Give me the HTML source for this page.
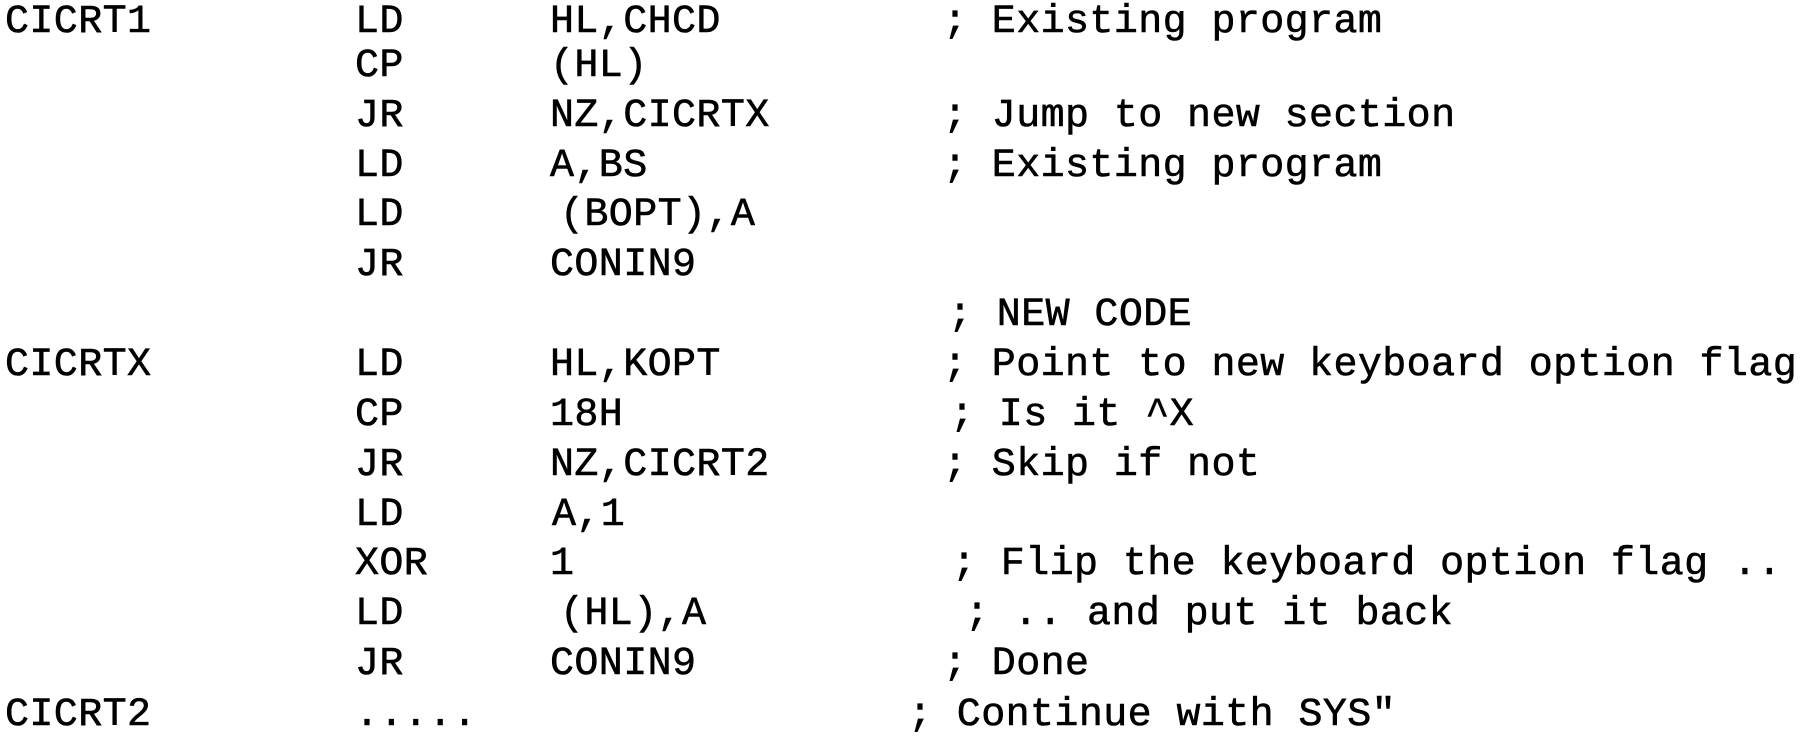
<!DOCTYPE html>
<html><head><meta charset="utf-8"><style>
html,body{margin:0;padding:0;background:#fff;}
body{width:1813px;height:738px;position:relative;overflow:hidden;}
.t{position:absolute;font-family:"Liberation Mono","DejaVu Sans Mono",monospace;font-size:40px;letter-spacing:0.4px;line-height:50px;color:#000;white-space:pre;-webkit-text-stroke:0.6px #000;}
</style></head><body>
<div class="t" style="left:5px;top:-2px">CICRT1</div>
<div class="t" style="left:355px;top:-2px">LD</div>
<div class="t" style="left:550px;top:-2px">HL,CHCD</div>
<div class="t" style="left:943px;top:-2px">; Existing program</div>

<div class="t" style="left:355px;top:42px">CP</div>
<div class="t" style="left:550px;top:42px">(HL)</div>

<div class="t" style="left:355px;top:92px">JR</div>
<div class="t" style="left:550px;top:92px">NZ,CICRTX</div>
<div class="t" style="left:943px;top:92px">; Jump to new section</div>

<div class="t" style="left:355px;top:142px">LD</div>
<div class="t" style="left:550px;top:142px">A,BS</div>
<div class="t" style="left:943px;top:142px">; Existing program</div>

<div class="t" style="left:355px;top:191px">LD</div>
<div class="t" style="left:560px;top:191px">(BOPT),A</div>

<div class="t" style="left:355px;top:241px">JR</div>
<div class="t" style="left:550px;top:241px">CONIN9</div>

<div class="t" style="left:948px;top:291px">; NEW CODE</div>

<div class="t" style="left:5px;top:341px">CICRTX</div>
<div class="t" style="left:355px;top:341px">LD</div>
<div class="t" style="left:550px;top:341px">HL,KOPT</div>
<div class="t" style="left:943px;top:341px">; Point to new keyboard option flag</div>

<div class="t" style="left:355px;top:391px">CP</div>
<div class="t" style="left:550px;top:391px">18H</div>
<div class="t" style="left:950px;top:391px">; Is it ^X</div>

<div class="t" style="left:355px;top:441px">JR</div>
<div class="t" style="left:550px;top:441px">NZ,CICRT2</div>
<div class="t" style="left:943px;top:441px">; Skip if not</div>

<div class="t" style="left:355px;top:491px">LD</div>
<div class="t" style="left:552px;top:491px">A,1</div>

<div class="t" style="left:355px;top:540px">XOR</div>
<div class="t" style="left:550px;top:540px">1</div>
<div class="t" style="left:952px;top:540px">; Flip the keyboard option flag ..</div>

<div class="t" style="left:355px;top:590px">LD</div>
<div class="t" style="left:560px;top:590px">(HL),A</div>
<div class="t" style="left:965px;top:590px">; .. and put it back</div>

<div class="t" style="left:355px;top:640px">JR</div>
<div class="t" style="left:550px;top:640px">CONIN9</div>
<div class="t" style="left:943px;top:640px">; Done</div>

<div class="t" style="left:5px;top:691px">CICRT2</div>
<div class="t" style="left:355px;top:691px">.....</div>
<div class="t" style="left:908px;top:691px">; Continue with SYS"</div>
</body></html>
